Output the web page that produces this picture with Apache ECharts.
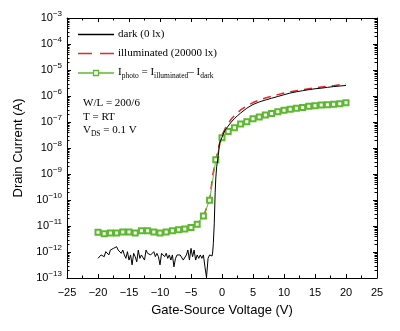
<!DOCTYPE html>
<html><head><meta charset="utf-8">
<script src="https://cdn.jsdelivr.net/npm/echarts@6/dist/echarts.min.js"></script>
<style>html,body{margin:0;padding:0;background:#fff}#c{width:400px;height:331px}</style>
</head><body><div id="c"></div>
<script>
// Dark current (0 lx)
const darkV = [-20,-19.75,-19.5,-19.25,-19,-18.75,-18.5,-18.25,-18,-17.75,-17.5,-17.25,-17,-16.75,-16.5,-16.25,-16,-15.75,-15.5,-15.25,-15,-14.75,-14.5,-14.25,-14,-13.75,-13.5,-13.25,-13,-12.75,-12.5,-12.25,-12,-11.75,-11.5,-11.25,-11,-10.75,-10.5,-10.25,-10,-9.75,-9.5,-9.25,-9,-8.75,-8.5,-8.25,-8,-7.75,-7.5,-7.25,-7,-6.75,-6.5,-6.25,-6,-5.75,-5.5,-5.25,-5,-4.75,-4.5,-4.25,-4,-3.75,-3.5,-3.25,-3,-2.75,-2.5,-2.25,
  -2,-1.8,-1.6,-1.5,-1.4,-1.25,-1.1,-1.0,-0.85,-0.6,-0.4,-0.2,0,0.5,1,1.5,2,2.5,3,4,5,6,7,8,9,10,11,12,13,14,15,16,17,18,19,20];
const darkI = [5.7e-13,6.6e-13,7.7e-13,8.9e-13,6.6e-13,1.03e-12,1.19e-12,7.7e-13,1.19e-12,1.1e-12,1.38e-12,1.45e-12,1.6e-12,1.19e-12,1.38e-12,8.9e-13,1.19e-12,7.7e-13,5.7e-13,1.03e-12,4.9e-13,7.7e-13,3.2e-13,8.9e-13,6.6e-13,4.2e-13,1.19e-12,5.7e-13,7.7e-13,8.9e-13,4.9e-13,1.19e-12,8.9e-13,1.03e-12,7.7e-13,8.9e-13,1.03e-12,6.6e-13,8.9e-13,6.6e-13,3.2e-13,8.9e-13,7.7e-13,6.6e-13,8.9e-13,5.7e-13,7.7e-13,4.9e-13,7.7e-13,2.7e-13,5.7e-13,7.7e-13,8.9e-13,7.7e-13,6.6e-13,4.9e-13,5.7e-13,7.7e-13,1.19e-12,4.9e-13,1.38e-12,6.6e-13,1.19e-12,4.9e-13,7.7e-13,5.7e-13,7.7e-13,5.7e-13,7.7e-13,2.7e-13,1.05e-13,5.7e-13,
  7.7e-13,6.6e-13,7.0e-13,1.0e-12,2.1e-12,1.2e-11,2.0e-10,7e-10,2e-9,5e-9,1.5e-8,2.0e-8,2.6e-8,4.9e-8,7e-8,1.0e-7,1.35e-7,1.75e-7,2.2e-7,3.4e-7,4.7e-7,5.9e-7,7.0e-7,8.2e-7,9.6e-7,1.12e-6,1.3e-6,1.45e-6,1.6e-6,1.75e-6,1.9e-6,2.0e-6,2.15e-6,2.3e-6,2.42e-6,2.55e-6];
// Illuminated current (20000 lx)
const illumV = [-20,-19,-18,-17,-16,-15,-14,-13,-12,-11,-10,-9,-8,-7,-6,-5,-4,-3,-2,-1.5,-1,-0.5,0,0.5,1,1.5,2,3,4,5,6,7,8,9,10,11,12,13,14,15,16,17,18,19,20];
const illumI = [5.75e-12,5.0e-12,5.4e-12,5.4e-12,5.9e-12,5.9e-12,5.4e-12,6.5e-12,6.5e-12,5.9e-12,5.4e-12,5.9e-12,6.5e-12,7.1e-12,7.6e-12,8.7e-12,1.17e-11,2.4e-11,9.8e-11,9e-10,3.5e-9,1.2e-8,3.2e-8,5.5e-8,8.8e-8,1.3e-7,1.75e-7,2.9e-7,4.2e-7,5.6e-7,7.0e-7,8.4e-7,9.8e-7,1.13e-6,1.3e-6,1.45e-6,1.6e-6,1.75e-6,1.9e-6,2.05e-6,2.2e-6,2.35e-6,2.5e-6,2.7e-6,2.9e-6];
// Photo current
const photoV = [-20,-19,-18,-17,-16,-15,-14,-13,-12,-11,-10,-9,-8,-7,-6,-5,-4,-3,-2,-1,0,1,2,3,4,5,6,7,8,9,10,11,12,13,14,15,16,17,18,19,20];
const photoI = [5.75e-12,5.0e-12,5.4e-12,5.4e-12,5.9e-12,5.9e-12,5.4e-12,6.5e-12,6.5e-12,5.9e-12,5.4e-12,5.9e-12,6.5e-12,7.1e-12,7.6e-12,8.7e-12,1.17e-11,2.4e-11,9.8e-11,3.5e-9,2.5e-8,4.3e-8,6.0e-8,8.3e-8,1.02e-7,1.32e-7,1.55e-7,1.86e-7,2.14e-7,2.5e-7,2.8e-7,3.1e-7,3.4e-7,3.6e-7,4.0e-7,4.2e-7,4.5e-7,4.6e-7,4.8e-7,5.0e-7,5.5e-7];

const legendLabels = [['dark (0 lx)'], ['illuminated (20000 lx)'], ['I', 'photo', ' = I', 'illuminated', '\u2013 I', 'dark']];
const annotations = [['W/L = 200/6'], ['T = RT'], ['V', 'DS', ' = 0.1 V']];

const zip = (a, b) => a.map((v, i) => [v, b[i]]);
const SANS = 'Liberation Sans, Arial, sans-serif';
const SERIF = 'Liberation Serif, Times New Roman, serif';
const BLACK = '#000', RED = '#e8262c', GREEN = '#5db830';

const chart = echarts.init(document.getElementById('c'));
const expLabel = v => {
  const e = Math.round(Math.log10(v));
  return '{b|10}{s|' + (e < 0 ? '\u2212' : '') + Math.abs(e) + '}';
};
const yLabelRich = {
  b: {fontSize: 11, fontFamily: SANS, color: '#000', lineHeight: 11, verticalAlign: 'bottom'},
  s: {fontSize: 8, fontFamily: SANS, color: '#000', lineHeight: 8, padding: [0, 0, 6, 0], verticalAlign: 'bottom'}
};
const serifRich = {
  n: {fontSize: 11, fontFamily: SERIF, color: '#000', lineHeight: 11, verticalAlign: 'top'},
  s: {fontSize: 7.5, fontFamily: SERIF, color: '#000', lineHeight: 8, padding: [5, 0, 0, 0], verticalAlign: 'top'}
};
const richText = parts => parts.map((p, i) => (i % 2 ? '{s|' : '{n|') + p + '}').join('');

const frameAxis = {
  axisLine: {show: true, onZero: false, lineStyle: {color: '#000', width: 1}},
  axisTick: {show: true, inside: true, length: 4, lineStyle: {color: '#000'}},
  splitLine: {show: false}
};

const option = {
  animation: false,
  backgroundColor: '#fff',
  grid: {left: 67, right: 23, top: 18, bottom: 53},
  xAxis: [Object.assign({
    type: 'value', min: -25, max: 25, interval: 5, position: 'bottom',
    name: 'Gate-Source Voltage (V)', nameLocation: 'middle', nameGap: 26,
    nameTextStyle: {fontFamily: SANS, fontSize: 13, color: '#000'},
    minorTick: {show: true, splitNumber: 2, length: 2.5, lineStyle: {color: '#000'}},
    axisLabel: {fontFamily: SANS, fontSize: 11, color: '#000', margin: 9,
      formatter: v => String(v).replace('-', '\u2212')}
  }, frameAxis), Object.assign({
    type: 'value', min: -25, max: 25, interval: 5, position: 'top',
    minorTick: {show: true, splitNumber: 2, length: 2.5, lineStyle: {color: '#000'}},
    axisLabel: {show: false}
  }, frameAxis)],
  yAxis: [Object.assign({
    type: 'log', logBase: 10, min: 1e-13, max: 1e-3, position: 'left',
    name: 'Drain Current (A)', nameLocation: 'middle', nameGap: 37,
    nameTextStyle: {fontFamily: SANS, fontSize: 13, color: '#000'},
    axisLabel: {margin: 5, formatter: expLabel, rich: yLabelRich}
  }, frameAxis), Object.assign({
    type: 'log', logBase: 10, min: 1e-13, max: 1e-3, position: 'right',
    axisLabel: {show: false}
  }, frameAxis)],
  series: [{
    name: 'dark', type: 'line', data: zip(darkV, darkI), symbol: 'none', z: 4,
    lineStyle: {color: BLACK, width: 1}
  }, {
    name: 'illuminated', type: 'line', data: zip(illumV, illumI), symbol: 'none', z: 2,
    lineStyle: {color: RED, width: 1.5, type: [8, 6]}
  }, {
    name: 'photo', type: 'line', data: zip(photoV, photoI), symbol: 'emptyRect', symbolSize: 5, z: 3,
    lineStyle: {color: GREEN, width: 1}, itemStyle: {color: GREEN, borderWidth: 1.3, borderColor: GREEN}
  }]
};
chart.setOption(option);

// log minor ticks (2..9 per decade) placed through the library's scale
const g = [];
const xl = chart.convertToPixel({xAxisIndex: 0}, -25);
const xr = chart.convertToPixel({xAxisIndex: 0}, 25);
for (let d = -13; d < -3; d++) {
  for (let k = 2; k <= 9; k++) {
    const y = Math.round(chart.convertToPixel({yAxisIndex: 0}, k * Math.pow(10, d))) + 0.5;
    g.push({type: 'line', silent: true, shape: {x1: xl, y1: y, x2: xl + 2.5, y2: y}, style: {stroke: '#000', lineWidth: 1}});
    g.push({type: 'line', silent: true, shape: {x1: xr, y1: y, x2: xr - 2.5, y2: y}, style: {stroke: '#000', lineWidth: 1}});
  }
}
// legend (drawn)
const legY = [34.5, 53.5, 73];
const legStyles = [
  {stroke: BLACK, lineWidth: 1.5},
  {stroke: RED, lineWidth: 1.5, lineDash: [14, 8]},
  {stroke: GREEN, lineWidth: 1.5}
];
legendLabels.forEach((parts, i) => {
  g.push({type: 'line', silent: true, shape: {x1: 78, y1: legY[i], x2: 114, y2: legY[i]}, style: legStyles[i]});
  g.push({type: 'text', left: 118, top: legY[i] - 6, silent: true,
    style: {text: richText(parts), rich: serifRich, fill: '#000', font: '11px ' + SERIF}});
});
g.push({type: 'rect', silent: true, shape: {x: 93.5, y: legY[2] - 2.5, width: 5, height: 5},
  style: {fill: '#fff', stroke: GREEN, lineWidth: 1.3}});
// annotations
const annY = [104, 117.5, 131];
annotations.forEach((a, i) => {
  g.push({type: 'text', left: 83, top: annY[i] - 6, silent: true,
    style: {text: richText(a), rich: serifRich, fill: '#000', font: '11px ' + SERIF}});
});
chart.setOption({graphic: g});
</script></body></html>
